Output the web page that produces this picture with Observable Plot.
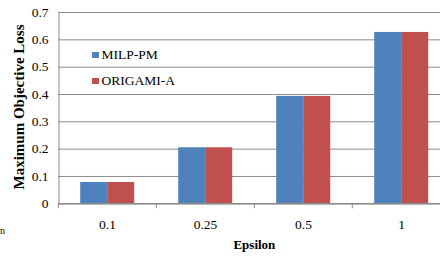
<!DOCTYPE html>
<html>
<head>
<meta charset="utf-8">
<script src="https://cdn.jsdelivr.net/npm/d3@7"></script>
<script src="https://cdn.jsdelivr.net/npm/@observablehq/plot@0.6"></script>
<style>
  html, body { margin: 0; padding: 0; background: #fff; overflow: hidden; }
  #wrap { position: relative; width: 440px; height: 258px; overflow: hidden; font-family: "Liberation Serif", "Times New Roman", Times, serif; color: #000; }
  #wrap svg { overflow: hidden; }
  .ttl { position: absolute; font-weight: bold; font-size: 13px; white-space: nowrap; line-height: 1; }
  .leg { position: absolute; font-size: 13.5px; white-space: nowrap; line-height: 1; display: flex; align-items: center; }
  .sw { display: inline-block; width: 6.5px; height: 6.5px; margin-right: 3px; }
</style>
</head>
<body>
<div id="wrap"></div>
<script>
const categories = ["0.1", "0.25", "0.5", "1"];
const series = ["MILP-PM", "ORIGAMI-A"];
const milpPM = [0.078, 0.205, 0.393, 0.627];
const origamiA = [0.078, 0.205, 0.393, 0.627];
const yTicks = [0, 0.1, 0.2, 0.3, 0.4, 0.5, 0.6, 0.7];
const colors = ["#4F81BD", "#C0504D"];
const xTitle = "Epsilon";
const yTitle = "Maximum Objective Loss";

const data = categories.flatMap((c, i) => [
  {eps: c, s: series[0], v: milpPM[i]},
  {eps: c, s: series[1], v: origamiA[i]}
]);

const W = 440, H = 258;
const mL = 57.8, mR = -11, mT = 12, mB = 54.7;
const step = (W - mL - mR) / categories.length;
const padOuter = 0.755;
const barStep = step / (series.length + 2 * padOuter);

const chart = Plot.plot({
  width: W, height: H,
  marginLeft: mL, marginRight: mR, marginTop: mT, marginBottom: mB,
  style: {fontFamily: "'Liberation Serif', 'Times New Roman', Times, serif", fontSize: "13.5px", color: "#000", background: "#fff"},
  fx: {domain: categories, padding: 0, label: null},
  x: {domain: series, paddingInner: 0, paddingOuter: padOuter, axis: null},
  y: {domain: [0, 0.7], axis: null},
  color: {domain: series, range: colors},
  marks: [
    Plot.gridY(yTicks, {stroke: "#8c8c8c", strokeOpacity: 1, strokeWidth: 1}),
    Plot.ruleX(data.slice(0, 1), {fx: "eps", x: "s", dx: -(padOuter + 0.5) * barStep, stroke: "#8c8c8c", strokeWidth: 1}),
    Plot.axisY(yTicks, {tickSize: 0, tickPadding: 10, tickFormat: d => String(d), label: null, fill: "#000"}),
    Plot.barY(data, {fx: "eps", x: "s", y: "v", fill: "s"}),
    Plot.ruleY([0], {stroke: "#8c8c8c", strokeWidth: 1.6}),
    Plot.axisFx({anchor: "bottom", tickSize: 5, dx: -step / 2, tickFormat: () => "", stroke: "#8c8c8c", label: null}),
    Plot.axisFx({anchor: "bottom", tickSize: 0, tickPadding: 16, label: null, fill: "#000"})
  ]
});

const wrap = document.getElementById("wrap");
wrap.appendChild(chart);

function addDiv(cls, html, css) {
  const d = document.createElement("div");
  d.className = cls;
  d.innerHTML = html;
  Object.assign(d.style, css);
  wrap.appendChild(d);
  return d;
}

addDiv("ttl", xTitle, {left: (mL + 2 * step) + "px", top: "244px", transform: "translate(-50%, -50%)"});
addDiv("ttl", yTitle, {left: "19px", top: "106.5px", fontSize: "15px", transform: "translate(-50%, -50%) rotate(-90deg)"});
series.forEach((s, i) => {
  addDiv("leg", `<span class="sw" style="background:${colors[i]}"></span>${s}`, {left: "92px", top: (48 + i * 26) + "px"});
});
addDiv("leg", "n", {left: "0px", top: "226px", fontSize: "10px"});
</script>
</body>
</html>
